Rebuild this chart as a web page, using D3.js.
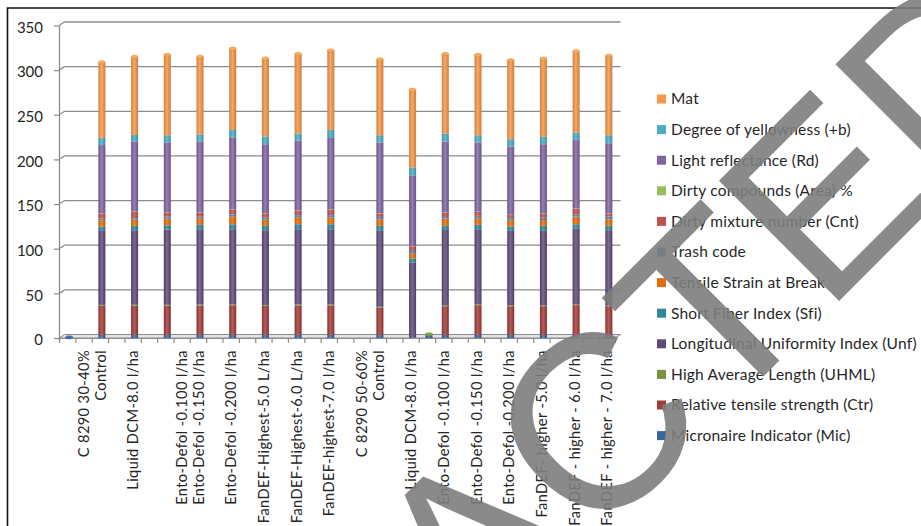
<!DOCTYPE html>
<html>
<head>
<meta charset="utf-8">
<script src="https://cdn.jsdelivr.net/npm/d3@7"></script>
<style>
  html, body { margin: 0; padding: 0; background: #fff; }
  svg { display: block; font-family: Lato, "Open Sans", sans-serif; }
</style>
</head>
<body>
<svg id="chart" width="921" height="526"></svg>
<script>
// Category slots along the x axis (blank slots are spacer rows of the sheet)
const slotLabels = [
  "", "C 8290 30-40%", "Control", "", "Liquid DCM-8.0 l/ha", "", "",
  "Ento-Defol -0.100 l/ha", "Ento-Defol -0.150 l/ha", "", "Ento-Defol -0.200 l/ha", "",
  "FanDEF-Highest-5.0 L/ha", "", "FanDEF-Highest-6.0 L/ha", "", "FanDEF-highest-7.0 l/ha", "",
  "C 8290 50-60%", "Control", "", "Liquid DCM-8.0 l/ha", "", "Ento-Defol -0.100 l/ha", "",
  "Ento-Defol -0.150 l/ha", "", "Ento-Defol -0.200 l/ha", "", "FanDEF- higher -5.0 l/ha", "",
  "FanDEF - higher - 6.0 l/ha", "", "FanDEF - higher - 7.0 l/ha"
];

// Slot index of each stacked column
const barSlots = [0, 2, 4, 6, 8, 10, 12, 14, 16, 19, 21, 22, 23, 25, 27, 29, 31, 33];

// Series values per column (bottom of the stack first)
const mic    = [0.8, 3.8, 3.8, 3.8, 3.8, 3.9, 3.8, 3.8, 3.8, 3.5, 0,   3.2, 3.6, 3.8, 3.6, 3.6, 3.8, 3.6];
const ctr    = [0, 32.2, 32.4, 32.3, 32.5, 32.8, 32.2, 32.6, 32.6, 30.5, 0, 0, 32.0, 33.0, 32.0, 32.0, 33.0, 32.0];
const uhml   = [0, 1.1, 1.0, 1.1, 1.1, 1.1, 1.0, 1.1, 1.1, 1.0, 0.3, 1.0, 1.0, 1.0, 1.0, 1.0, 1.0, 1.0];
const unf    = [0, 83.6, 82.8, 84.2, 84.4, 84.0, 83.7, 84.3, 84.3, 85.0, 84.1, 0, 84.4, 84.0, 83.4, 83.4, 84.7, 84.1];
const sfi    = [0, 4.1, 5.6, 4.9, 4.9, 5.6, 4.9, 5.6, 5.6, 5.6, 4.6, 0, 4.6, 4.9, 4.8, 5.6, 4.9, 4.9];
const strain = [0, 7.2, 6.8, 7.5, 7.5, 9.0, 7.0, 7.5, 7.5, 7.4, 6.0, 0, 8.2, 7.5, 7.2, 6.6, 8.6, 7.4];
const trash  = [0, 2.0, 1.8, 2.2, 1.8, 2.2, 2.3, 2.7, 2.7, 2.6, 2.5, 0, 1.8, 2.6, 2.2, 2.7, 2.6, 3.0];
const cnt    = [0, 5.2, 7.2, 4.7, 4.7, 5.4, 4.6, 5.3, 6.4, 3.9, 5.2, 0, 4.6, 4.5, 3.5, 4.6, 6.5, 3.5];
const area   = [0, 0.3, 0.3, 0.3, 0.3, 0.3, 0.3, 0.3, 0.3, 0.3, 0.3, 0, 0.3, 0.3, 0.3, 0.3, 0.3, 0.3];
const rd     = [0, 76.6, 78.1, 78.0, 79.0, 80.3, 77.2, 77.8, 79.7, 79.2, 78.6, 0, 79.5, 77.4, 76.5, 77.2, 76.2, 78.2];
const plusB  = [0, 8.1, 7.6, 8.0, 8.0, 8.4, 8.7, 8.0, 9.0, 8.0, 9.4, 0, 9.0, 8.0, 8.2, 8.3, 8.4, 9.0];
const mat    = [0, 84.5, 87.4, 90.0, 87.0, 91.0, 87.3, 89.0, 89.0, 85.0, 87.0, 0, 89.0, 90.0, 88.3, 87.7, 91.0, 89.0];

const seriesNames = [
  "Micronaire Indicator (Mic)", "Relative tensile strength (Ctr)", "High Average Length (UHML)",
  "Longitudinal Uniformity Index (Unf)", "Short Fiber Index (Sfi)", "Tensile Strain at Break",
  "Trash code", "Dirty mixture number (Cnt)", "Dirty compounds (Area) %",
  "Light reflectance (Rd)", "Degree of yellowness (+b)", "Mat"
];
const seriesValues = [mic, ctr, uhml, unf, sfi, strain, trash, cnt, area, rd, plusB, mat];
const seriesColors = [
  "#3A65A0", "#A33C39", "#77933C", "#604A7B", "#31859C", "#E46C0A",
  "#4F81BD", "#C0504D", "#9BBB59", "#8064A2", "#4BACC6", "#F79646"
];
const yTickValues = [0, 50, 100, 150, 200, 250, 300, 350];

// ---------------------------------------------------------------
const svg = d3.select("#chart");
const textColor = "#262626";
const gridColor = "#8c8c8c";

// chart frame
svg.append("path")
  .attr("d", "M7.5,526 V8 H921")
  .attr("fill", "none").attr("stroke", "#111").attr("stroke-width", 1.6);

// front plane scales; back wall is offset by the 3D depth
const xLeft = 59, xRight = 615;
const depthX = 5.5, depthY = -3.5;
const x = d3.scaleBand().domain(d3.range(slotLabels.length)).range([xLeft, xRight]);
const xEdge = d3.scaleLinear().domain([0, slotLabels.length]).range([xLeft, xRight]);
const y = d3.scaleLinear().domain([0, 350]).range([338, 25.5]);

// floor
svg.append("path")
  .attr("d", `M${xLeft},${y(0)} L${xRight},${y(0)} L${xRight + depthX},${y(0) + depthY} L${xLeft + depthX},${y(0) + depthY} Z`)
  .attr("fill", "#e4e4e4").attr("stroke", gridColor).attr("stroke-width", 1);

// gridlines on the back wall and side wall
const grid = svg.append("g");
yTickValues.forEach(t => {
  if (t === 0) return;
  grid.append("path")
    .attr("d", `M${xLeft},${y(t)} L${xLeft + depthX},${y(t) + depthY} L${xRight + depthX},${y(t) + depthY}`)
    .attr("fill", "none").attr("stroke", gridColor).attr("stroke-width", 1.3);
});

// value axis
const yAxis = svg.append("g")
  .attr("transform", `translate(${xLeft},0)`)
  .call(d3.axisLeft(y).tickValues(yTickValues).tickSize(5).tickPadding(11).tickSizeOuter(0));
yAxis.select(".domain").attr("stroke", gridColor).attr("stroke-width", 1.3);
yAxis.selectAll(".tick line").attr("stroke", gridColor).attr("stroke-width", 1.2);
yAxis.selectAll(".tick text")
  .attr("fill", textColor).attr("font-size", 15).attr("font-family", "Lato, sans-serif")
  .attr("dy", "0.45em");

// category axis ticks at slot boundaries
const xAxis = svg.append("g")
  .attr("transform", `translate(0,${y(0)})`)
  .call(d3.axisBottom(xEdge).tickValues(d3.range(slotLabels.length + 1)).tickSize(5).tickFormat(""));
xAxis.select(".domain").attr("stroke", gridColor).attr("stroke-width", 1.2);
xAxis.selectAll(".tick line").attr("stroke", gridColor).attr("stroke-width", 1.2);

// category labels (rotated)
svg.append("g").selectAll("text")
  .data(slotLabels.map((t, i) => ({ t, i })).filter(d => d.t))
  .join("text")
  .attr("transform", d => `translate(${x(d.i) + x.bandwidth() / 2 + 0.5},350) rotate(-90)`)
  .attr("text-anchor", "end")
  .attr("dy", "0.35em")
  .attr("font-size", 14.6)
  .attr("letter-spacing", 0.4)
  .attr("fill", textColor)
  .text(d => d.t);

// stacked columns
const table = barSlots.map((slot, j) => {
  const row = { slot };
  seriesNames.forEach((name, k) => { row[name] = seriesValues[k][j]; });
  return row;
});
const stacked = d3.stack().keys(seriesNames)(table);

const defs = svg.append("defs");
const shade = defs.append("linearGradient").attr("id", "colShade").attr("x1", 0).attr("x2", 1).attr("y1", 0).attr("y2", 0);
shade.append("stop").attr("offset", "0%").attr("stop-color", "#000").attr("stop-opacity", 0.12);
shade.append("stop").attr("offset", "45%").attr("stop-color", "#fff").attr("stop-opacity", 0.18);
shade.append("stop").attr("offset", "100%").attr("stop-color", "#000").attr("stop-opacity", 0.16);

const barW = 7;
const barX = slot => x(slot) + x.bandwidth() / 2 + 2 - barW / 2;

const bars = svg.append("g");
stacked.forEach((layer, k) => {
  bars.append("g").attr("fill", seriesColors[k])
    .selectAll("rect")
    .data(layer.filter(d => d[1] > d[0]))
    .join("rect")
    .attr("x", d => barX(d.data.slot))
    .attr("y", d => y(d[1]))
    .attr("width", barW)
    .attr("height", d => y(d[0]) - y(d[1]));
});

// cylinder shading and top caps
const totals = table.map(r => ({
  slot: r.slot,
  total: d3.sum(seriesNames, n => r[n]),
  top: seriesColors[d3.max(seriesNames.map((n, k) => r[n] > 0 ? k : -1))]
}));
bars.append("g").selectAll("rect")
  .data(totals.filter(d => d.total > 0))
  .join("rect")
  .attr("x", d => barX(d.slot))
  .attr("y", d => y(d.total))
  .attr("width", barW)
  .attr("height", d => y(0) - y(d.total))
  .attr("fill", "url(#colShade)");
bars.append("g").selectAll("ellipse")
  .data(totals.filter(d => d.total > 0))
  .join("ellipse")
  .attr("cx", d => barX(d.slot) + barW / 2)
  .attr("cy", d => y(d.total))
  .attr("rx", barW / 2)
  .attr("ry", 1.6)
  .attr("fill", d => d3.color(d.top).brighter(0.4))
  .attr("stroke", d => d3.color(d.top).darker(0.3))
  .attr("stroke-width", 0.6);

// legend, top of the stack first
const legend = svg.append("g").attr("transform", "translate(657,99)");
const legendOrder = d3.range(seriesNames.length).reverse();
legendOrder.forEach((k, row) => {
  const g = legend.append("g").attr("transform", `translate(0,${row * 30.6})`);
  g.append("rect").attr("x", 0).attr("y", -4.5).attr("width", 9).attr("height", 9).attr("fill", seriesColors[k]);
  g.append("text").attr("x", 14).attr("dy", "0.35em")
    .attr("font-size", 15.5).attr("letter-spacing", 0.2)
    .attr("fill", textColor).text(seriesNames[k]);
});

// diagonal watermark across the figure
svg.append("text")
  .attr("transform", "translate(0,1140) rotate(-45)")
  .attr("font-family", "'Liberation Sans', Arial, sans-serif")
  .attr("font-size", 247)
  .attr("fill", "#7d7d7d")
  .attr("fill-opacity", 0.9)
  .text("RETRACTED");
</script>
</body>
</html>
